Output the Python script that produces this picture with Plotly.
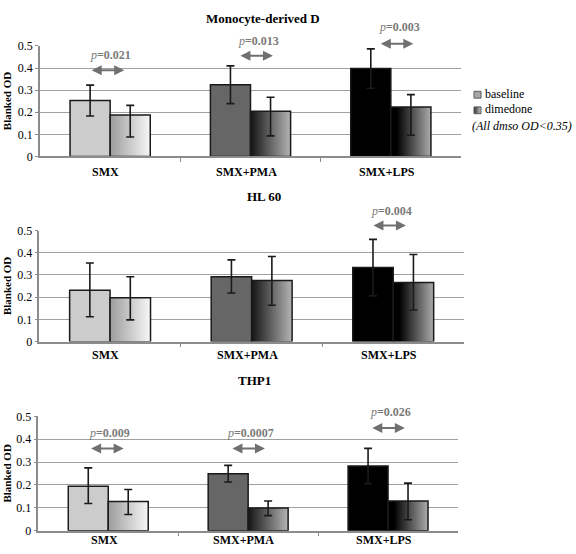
import plotly.graph_objects as go

categories = ["SMX", "SMX+PMA", "SMX+LPS"]
panel_titles = ["Monocyte-derived D", "HL 60", "THP1"]
y_ticks = [0, 0.1, 0.2, 0.3, 0.4, 0.5]
y_tick_labels = ["0", "0.1", "0.2", "0.3", "0.4", "0.5"]
series_names = ["baseline", "dimedone"]
note_text = "(All dmso OD<0.35)"

# Monocyte-derived D
mono_baseline = [0.253, 0.324, 0.398]
mono_baseline_err_plus = [0.070, 0.086, 0.089]
mono_baseline_err_minus = [0.070, 0.085, 0.089]
mono_dimedone = [0.187, 0.204, 0.224]
mono_dimedone_err_plus = [0.044, 0.064, 0.056]
mono_dimedone_err_minus = [0.099, 0.111, 0.128]

# HL 60
hl60_baseline = [0.231, 0.292, 0.333]
hl60_baseline_err_plus = [0.123, 0.076, 0.127]
hl60_baseline_err_minus = [0.119, 0.073, 0.127]
hl60_dimedone = [0.197, 0.275, 0.266]
hl60_dimedone_err_plus = [0.095, 0.108, 0.126]
hl60_dimedone_err_minus = [0.099, 0.111, 0.124]

# THP1
thp1_baseline = [0.194, 0.249, 0.283]
thp1_baseline_err_plus = [0.081, 0.037, 0.077]
thp1_baseline_err_minus = [0.075, 0.036, 0.077]
thp1_dimedone = [0.128, 0.099, 0.130]
thp1_dimedone_err_plus = [0.052, 0.031, 0.078]
thp1_dimedone_err_minus = [0.057, 0.033, 0.082]

# p-value annotations
p_panels = [0, 0, 0, 1, 2, 2, 2]
p_cats = [0, 1, 2, 2, 0, 1, 2]
p_labels = ["0.021", "0.013", "0.003", "0.004", "0.009", "0.0007", "0.026"]
p_text_y = [0.457, 0.522, 0.587, 0.588, 0.428, 0.428, 0.517]
p_arrow_y = [0.390, 0.456, 0.510, 0.522, 0.360, 0.360, 0.449]
p_offset = [-0.02, 0.04, 0.04, -0.03, -0.01, 0.0, 0.0]

baseline_colors = ["#cccccc", "#666666", "#000000"]
dimedone_scales = [
    [[0, "#9c9c9c"], [1, "#f7f7f7"]],
    [[0, "#141414"], [1, "#b4b4b4"]],
    [[0, "#000000"], [0.15, "#000000"], [1, "#ababab"]],
]

W = 0.2857
W_PX = 576
H_PX = 554

# panel geometry in pixels: (left, right, top, bottom)
panels_px = [(40, 461, 40, 153.3), (39.3, 464, 229.3, 343.3), (38.3, 458, 420, 537.3)]
title_px = [(263, 12), (264, 194), (254, 383)]
cat_label_y_px = [169, 357, 547]

baselines = [mono_baseline, hl60_baseline, thp1_baseline]
b_plus = [mono_baseline_err_plus, hl60_baseline_err_plus, thp1_baseline_err_plus]
b_minus = [mono_baseline_err_minus, hl60_baseline_err_minus, thp1_baseline_err_minus]
dimedones = [mono_dimedone, hl60_dimedone, thp1_dimedone]
d_plus = [mono_dimedone_err_plus, hl60_dimedone_err_plus, thp1_dimedone_err_plus]
d_minus = [mono_dimedone_err_minus, hl60_dimedone_err_minus, thp1_dimedone_err_minus]

FONT = "Liberation Serif"
AXC = "#8c8c8c"
fig = go.Figure()
idx = list(range(len(categories)))
annotations = []
layout_axes = {}

for p in range(3):
    xa = "x" if p == 0 else f"x{p+1}"
    ya = "y" if p == 0 else f"y{p+1}"
    fig.add_trace(go.Bar(
        x=idx, y=baselines[p], width=W, offset=-W,
        marker=dict(color=baseline_colors, line=dict(color="#1a1a1a", width=1.5)),
        error_y=dict(type="data", symmetric=False, array=b_plus[p], arrayminus=b_minus[p],
                     color="#1a1a1a", thickness=1.6, width=4),
        xaxis=xa, yaxis=ya, showlegend=False, name=series_names[0],
    ))
    for i in idx:
        v = dimedones[p][i]
        fig.add_trace(go.Scatter(
            x=[i, i, i + W, i + W, i], y=[0, v, v, 0, 0],
            mode="lines", fill="toself",
            fillgradient=dict(type="horizontal", colorscale=dimedone_scales[i]),
            line=dict(color="#1a1a1a", width=1.5),
            xaxis=xa, yaxis=ya, showlegend=False, hoverinfo="skip", name=series_names[1],
        ))
    fig.add_trace(go.Scatter(
        x=[i + W / 2 for i in idx], y=dimedones[p], mode="markers",
        marker=dict(size=1, color="rgba(0,0,0,0)"),
        error_y=dict(type="data", symmetric=False, array=d_plus[p], arrayminus=d_minus[p],
                     color="#1a1a1a", thickness=1.6, width=4),
        xaxis=xa, yaxis=ya, showlegend=False,
    ))

    l, r, t, b = panels_px[p]
    xkey = "xaxis" if p == 0 else f"xaxis{p+1}"
    ykey = "yaxis" if p == 0 else f"yaxis{p+1}"
    layout_axes[xkey] = dict(
        domain=[l / W_PX, r / W_PX], anchor=ya, range=[-0.5, 2.5],
        tickmode="array", tickvals=[0.5, 1.5], showticklabels=False,
        ticks="outside", ticklen=4, tickcolor=AXC,
        showline=True, linecolor=AXC, linewidth=1.5, showgrid=False,
        zeroline=False, fixedrange=True,
    )
    layout_axes[ykey] = dict(
        domain=[1 - b / H_PX, 1 - t / H_PX], anchor=xa, range=[0, 0.5],
        tickmode="array", tickvals=y_ticks, ticktext=y_tick_labels,
        ticks="outside", ticklen=3, tickcolor=AXC,
        showline=True, linecolor=AXC, linewidth=1.5,
        showgrid=True, gridcolor="#a0a0a0", gridwidth=1.2, zeroline=False,
        tickfont=dict(family=FONT, size=12, color="black"), fixedrange=True,
    )
    tx, ty = title_px[p]
    annotations.append(dict(
        text=f"<b>{panel_titles[p]}</b>", x=tx / W_PX, y=1 - ty / H_PX,
        xref="paper", yref="paper", showarrow=False, xanchor="center", yanchor="middle",
        font=dict(family=FONT, size=13, color="black"),
    ))
    annotations.append(dict(
        text="<b>Blanked OD</b>", x=7 / W_PX, y=1 - (t + b) / 2 / H_PX,
        xref="paper", yref="paper", showarrow=False, textangle=-90,
        xanchor="center", yanchor="middle",
        font=dict(family=FONT, size=11, color="black"),
    ))
    for i in idx:
        annotations.append(dict(
            text=f"<b>{categories[i]}</b>", x=i - 0.03, y=1 - cat_label_y_px[p] / H_PX,
            xref=xa, yref="paper", showarrow=False, xanchor="center", yanchor="middle",
            font=dict(family=FONT, size=12, color="black"),
        ))

for k in range(len(p_labels)):
    p = p_panels[k]
    xa = "x" if p == 0 else f"x{p+1}"
    ya = "y" if p == 0 else f"y{p+1}"
    cx = p_cats[k] + p_offset[k]
    annotations.append(dict(
        text=f"<i>p</i><b>={p_labels[k]}</b>", x=cx + 0.02, y=p_text_y[k] / 0.5,
        xref=xa, yref=f"{ya} domain", showarrow=False, xanchor="center", yanchor="middle",
        font=dict(family=FONT, size=12, color="#7a7a7a"),
    ))
    annotations.append(dict(
        text="", x=cx + 0.12, y=p_arrow_y[k] / 0.5, ax=-34, ay=0,
        xref=xa, yref=f"{ya} domain", axref="pixel", ayref="pixel", showarrow=True,
        arrowhead=2, startarrowhead=2, arrowside="end+start", arrowsize=1,
        arrowwidth=2, arrowcolor="#707070", standoff=0, startstandoff=0,
    ))

# custom legend drawn on a hidden full-page pixel axis
fig.add_trace(go.Scatter(
    x=[474, 474, 481, 481, 474], y=[86.5, 93.5, 93.5, 86.5, 86.5],
    mode="lines", fill="toself", fillcolor="#a8a8a8",
    line=dict(color="#5a5a5a", width=1), xaxis="x4", yaxis="y4",
    showlegend=False, hoverinfo="skip",
))
fig.add_trace(go.Scatter(
    x=[474, 474, 481, 481, 474], y=[102.5, 109.5, 109.5, 102.5, 102.5],
    mode="lines", fill="toself",
    fillgradient=dict(type="horizontal", colorscale=[[0, "#303030"], [1, "#c4c4c4"]]),
    line=dict(color="#5a5a5a", width=1), xaxis="x4", yaxis="y4",
    showlegend=False, hoverinfo="skip",
))
for name, ypx in zip(series_names, [89, 105]):
    annotations.append(dict(
        text=name, x=483 / W_PX, y=1 - ypx / H_PX, xref="paper", yref="paper",
        showarrow=False, xanchor="left", yanchor="middle",
        font=dict(family=FONT, size=12, color="black"),
    ))
annotations.append(dict(
    text=f"<i>{note_text.replace('<', '&lt;')}</i>", x=574 / W_PX, y=1 - 122 / H_PX,
    xref="paper", yref="paper", showarrow=False, xanchor="right", yanchor="middle",
    font=dict(family=FONT, size=12, color="black"),
))

fig.update_layout(
    width=576, height=554, margin=dict(l=0, r=0, t=0, b=0),
    paper_bgcolor="white", plot_bgcolor="rgba(0,0,0,0)",
    barmode="overlay", annotations=annotations, showlegend=False,
    xaxis4=dict(domain=[0, 1], range=[0, W_PX], visible=False, fixedrange=True, anchor="y4"),
    yaxis4=dict(domain=[0, 1], range=[H_PX, 0], visible=False, fixedrange=True, anchor="x4"),
    **layout_axes,
)

fig.write_html("out.html", config={"displayModeBar": False},
               post_script="document.body.style.margin='0';")
